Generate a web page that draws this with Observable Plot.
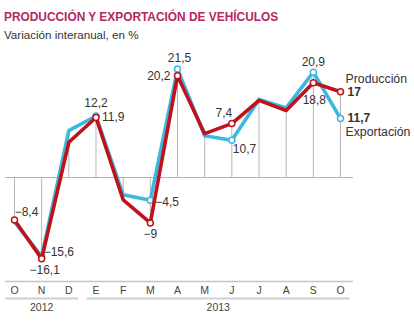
<!DOCTYPE html>
<html><head><meta charset="utf-8">
<script src="https://cdn.jsdelivr.net/npm/d3@7"></script>
<script src="https://cdn.jsdelivr.net/npm/@observablehq/plot@0.6"></script>
<style>
body{margin:0;background:#fff;font-family:"Liberation Sans",Arial,sans-serif;}
#wrap{position:relative;width:414px;height:322px;overflow:hidden;}
#head{position:relative;height:48px;}
#t{position:absolute;left:4px;top:10px;font-size:11.9px;font-weight:bold;color:#b3285f;white-space:nowrap;}
#s{position:absolute;left:4px;top:28px;font-size:11.6px;color:#333;white-space:nowrap;}
svg{display:block;}
</style></head>
<body><div id="wrap"><div id="head"><div id="t">PRODUCCIÓN Y EXPORTACIÓN DE VEHÍCULOS</div><div id="s">Variación interanual, en %</div></div><div id="chart"></div></div>
<script>
const months = ["O","N","D","E","F","M","A","M","J","J","A","S","O"];
const years = [{label:"2012", from:0, to:2}, {label:"2013", from:3, to:12}];
const produccion = [-8.4,-16.1,7.0,11.9,-4.4,-9,20.2,8.7,10.7,15.3,13.3,18.8,17];
const exportacion = [-8.8,-15.6,9.3,12.2,-3.4,-4.5,21.5,8.3,7.4,15.5,13.8,20.9,11.7];
const markersP = [0,1,3,5,6,8,11,12];
const markersE = [1,3,5,6,8,11,12];
// labels: series, month index, text
const etiquetas = [
 ["P",0,"−8,4"],["E",1,"−15,6"],["P",1,"−16,1"],["E",3,"12,2"],["P",3,"11,9"],
 ["E",5,"−4,5"],["P",5,"−9"],["E",6,"21,5"],["P",6,"20,2"],["P",8,"7,4"],["E",8,"10,7"],
 ["E",11,"20,9"],["P",11,"18,8"],["P",12,"17"],["E",12,"11,7"],
 ["P",12,"Producción"],["E",12,"Exportación"]
];
const COL_P = "#c0121b", COL_E = "#3cb8e0";

// layout offsets (styling only)
const off = {
 "−8,4":["middle",12,-8],"−15,6":["start",2,-4],"−16,1":["middle",3,11],"12,2":["middle",0,-13],
 "11,9":["start",6,0],"−4,5":["start",5,2],"−9":["middle",0,11],"21,5":["middle",2,-11],
 "20,2":["end",-7,0],"7,4":["middle",-8,-10],"10,7":["start",1,9],"20,9":["middle",0,-10],
 "18,8":["middle",1,17],"17":["start",7,0],"11,7":["start",7,0],
 "Producción":["start",5,-13],"Exportación":["start",5,14]
};

const rows = months.map((m,i)=>({i, m, p:produccion[i], e:exportacion[i]}));
const lab = etiquetas.map(([s,i,text])=>({i, v: s==="P"?produccion[i]:exportacion[i], text,
  anchor: off[text][0], dx: off[text][1], dy: off[text][2],
  bold: text==="17"||text==="11,7"}));
const yMin = -20.6, yMax = 24;

const textMarks = lab.map(l=>Plot.text([l],{x:"i", y:"v", text:"text", textAnchor:l.anchor, dx:l.dx, dy:l.dy,
      fill:"#333", fontSize:(l.text.length>6?12.3:12), fontWeight:l.bold?"bold":"normal"}));

const chart = Plot.plot({
  width:414, height:274,
  marginLeft:0.4, marginRight:60.4, marginTop:8, marginBottom:41,
  style:{fontFamily:'"Liberation Sans",Arial,sans-serif', background:"transparent", overflow:"visible"},
  x:{type:"linear", domain:[-0.5,12.5], axis:null},
  y:{domain:[yMin,yMax], axis:null},
  marks:[
    Plot.ruleX(rows,{x:"i", y1:0, y2:d=>Math.max(d.p,d.e)>0?Math.max(d.p,d.e):Math.min(d.p,d.e), stroke:"#b5b5b5", strokeWidth:1}),
    Plot.ruleY([0],{x1:-0.33, x2:12.48, stroke:"#b0b0b0", strokeWidth:1}),
    Plot.ruleY([yMin],{x1:-0.33, x2:12.48, stroke:"#c4c4c4", strokeWidth:1.5}),
    Plot.ruleY(years,{y:()=>yMin, x1:d=>d.from-0.33, x2:d=>d.to+0.36, dy:17, stroke:"#cfcfcf", strokeWidth:2}),
    Plot.text(years,{x:d=>(d.from+d.to)/2, y:()=>yMin, text:"label", dy:26, fill:"#444", fontSize:10.5}),
    Plot.axisX({ticks:d3.range(months.length), tickFormat:i=>months[i], tickSize:0, tickPadding:5, fontSize:10.5, color:"#444", label:null}),
    Plot.lineY(rows,{x:"i", y:"e", stroke:COL_E, strokeWidth:3.6, strokeLinejoin:"round"}),
    Plot.dot(markersE.map(i=>rows[i]),{x:"i", y:"e", r:3, fill:"white", stroke:COL_E, strokeWidth:1.5}),
    Plot.lineY(rows,{x:"i", y:"p", stroke:COL_P, strokeWidth:3.6, strokeLinejoin:"round"}),
    Plot.dot(markersP.map(i=>rows[i]),{x:"i", y:"p", r:3, fill:"white", stroke:COL_P, strokeWidth:1.5}),
    ...textMarks
  ]
});
document.getElementById("chart").appendChild(chart);
</script></body></html>
